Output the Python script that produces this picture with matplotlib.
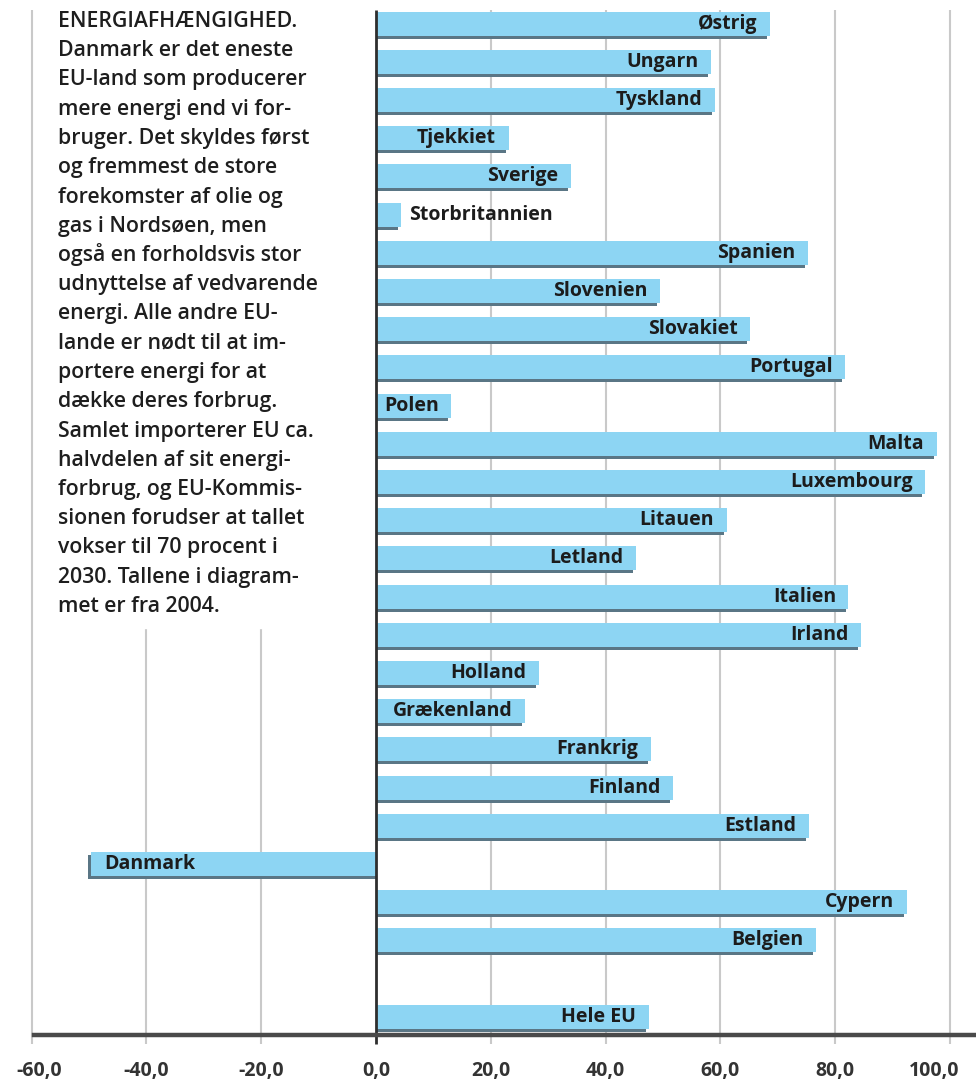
import numpy as np
import matplotlib
matplotlib.use("Agg")
import matplotlib.pyplot as plt
import matplotlib.transforms as mtransforms

# Energiafhængighed 2004 (procent), læst af figuren
lande = ["Østrig", "Ungarn", "Tyskland", "Tjekkiet", "Sverige", "Storbritannien",
         "Spanien", "Slovenien", "Slovakiet", "Portugal", "Polen", "Malta",
         "Luxembourg", "Litauen", "Letland", "Italien", "Irland", "Holland",
         "Grækenland", "Frankrig", "Finland", "Estland", "Danmark", "Cypern",
         "Belgien", "Hele EU"]
vaerdier = [68.7, 58.3, 59.1, 23.1, 33.9, 4.3,
            75.2, 49.4, 65.2, 81.7, 13.1, 97.7,
            95.7, 61.1, 45.3, 82.3, 84.5, 28.4,
            26.0, 47.9, 51.7, 75.4, -49.6, 92.5,
            76.6, 47.5]
ticks = [-60, -40, -20, 0, 20, 40, 60, 80, 100]

tekst = [
    "ENERGIAFHÆNGIGHED.",
    "Danmark er det eneste",
    "EU-land som producerer",
    "mere energi end vi for-",
    "bruger. Det skyldes først",
    "og fremmest de store",
    "forekomster af olie og",
    "gas i Nordsøen, men",
    "også en forholdsvis stor",
    "udnyttelse af vedvarende",
    "energi. Alle andre EU-",
    "lande er nødt til at im-",
    "portere energi for at",
    "dække deres forbrug.",
    "Samlet importerer EU ca.",
    "halvdelen af sit energi-",
    "forbrug, og EU-Kommis-",
    "sionen forudser at tallet",
    "vokser til 70 procent i",
    "2030. Tallene i diagram-",
    "met er fra 2004.",
]

W, H = 976, 1084
fig = plt.figure(figsize=(W / 100, H / 100), dpi=100)
ax = fig.add_axes([0, 0, 1, 1])

# pixel layout
x0_px, px_per_unit = 376, 5.74
row0_px, pitch = 23.5, 38.2
ax.set_xlim(-x0_px / px_per_unit, (W - x0_px) / px_per_unit)
ax.set_ylim((H - row0_px) / pitch, -row0_px / pitch)
ax.axis("off")

y = np.arange(len(lande), dtype=float)
y[-1] += 1  # tom række før "Hele EU"
vals = np.array(vaerdier)

bar_h = 24 / pitch
shadow_dy = 3 / pitch
axis_y = y[-1] + 18 / pitch
top_y = -13 / pitch

# gitterlinjer
for t in ticks:
    if t == 0:
        continue
    ax.vlines(t, top_y, axis_y + 9 / pitch, color="#c9c9c9", lw=1.5, zorder=1)

# skygge + søjler
ax.barh(y + shadow_dy, vals - 0.5, height=bar_h, color="#5a7685", zorder=2)
ax.barh(y, vals, height=bar_h, color="#8dd5f3", zorder=3)

# nul-linje og x-akse
ax.vlines(0, top_y, axis_y + 9 / pitch, color="#2e2e2e", lw=2, zorder=4)
ax.axhline(axis_y, color="#4a4a4a", lw=3.2, xmin=34 / W, zorder=4)

lab_font = dict(family="Open Sans", weight="bold", size=14, color="#1c1c1c")
for yi, v, navn in zip(y, vals, lande):
    if v < 0:
        ax.annotate(navn, (v, yi), xytext=(9, 0), textcoords="offset points",
                    ha="left", va="center", zorder=5, **lab_font)
    elif v < 8:
        ax.annotate(navn, (v, yi), xytext=(6, 0), textcoords="offset points",
                    ha="left", va="center", zorder=5, **lab_font)
    else:
        ax.annotate(navn, (v, yi), xytext=(-9, 0), textcoords="offset points",
                    ha="right", va="center", zorder=5, **lab_font)

# x-aksens tal
tick_font = dict(family="Open Sans", weight="bold", size=14, color="#333333")
for t in ticks:
    s = f"{t:.1f}".replace(".", ",")
    trans = ax.transData
    if t == ticks[-1]:
        trans = trans + mtransforms.ScaledTranslation(-16 / 100, 0, fig.dpi_scale_trans)
    elif t == ticks[0]:
        trans = trans + mtransforms.ScaledTranslation(8 / 100, 0, fig.dpi_scale_trans)
    ax.text(t, axis_y + 36 / pitch, s, ha="center", va="center",
            transform=trans, zorder=5, **tick_font)

# hvid tekstboks over gitteret
fig.patches.append(plt.Rectangle((46 / W, 1 - 628 / H), 312 / W, 628 / H,
                                 transform=fig.transFigure, color="white", zorder=4))
for i, linje in enumerate(tekst):
    base = 27 + i * 29.25
    fig.text(58 / W, 1 - base / H, linje, ha="left", va="baseline",
             family="Open Sans", weight="semibold", size=15.3, color="#1e1e1e", zorder=6)

fig.savefig("out.png", dpi=100)
